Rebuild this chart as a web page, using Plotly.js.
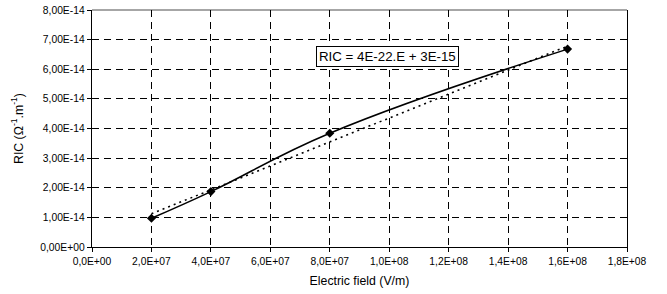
<!DOCTYPE html>
<html><head><meta charset="utf-8">
<script src="https://cdn.plot.ly/plotly-3.0.1.min.js"></script>
<style>html,body{margin:0;padding:0;background:#fff}#c{width:667px;height:294px}</style>
</head><body><div id="c"></div>
<script>
const fieldX = [2e7, 4e7, 8e7, 1.6e8];
const ricY = [0.97e-14, 1.87e-14, 3.84e-14, 6.68e-14];
const trendX = [2e7, 1.6e8];
const trendY = [1.12e-14, 6.78e-14];
const xTickVals = [0, 2e7, 4e7, 6e7, 8e7, 1e8, 1.2e8, 1.4e8, 1.6e8, 1.8e8];
const xTickText = ["0,0E+00","2,0E+07","4,0E+07","6,0E+07","8,0E+07","1,0E+08","1,2E+08","1,4E+08","1,6E+08","1,8E+08"];
const yTickVals = [0, 1e-14, 2e-14, 3e-14, 4e-14, 5e-14, 6e-14, 7e-14, 8e-14];
const yTickText = ["0,00E+00","1,00E-14","2,00E-14","3,00E-14","4,00E-14","5,00E-14","6,00E-14","7,00E-14","8,00E-14"];
const eqText = "RIC = 4E-22.E + 3E-15";

const font = "Arial, 'Liberation Sans', sans-serif";
const traces = [
  {x: trendX, y: trendY, mode: 'lines', line: {color: '#000', width: 1.6, dash: '2px,4px'}, hoverinfo: 'skip'},
  {x: fieldX, y: ricY, mode: 'lines+markers', line: {color: '#000', width: 1.5, shape: 'spline', smoothing: 1.2},
   marker: {symbol: 'diamond', size: 7, color: '#000'}}
];
const layout = {
  width: 667, height: 294,
  margin: {l: 92, r: 40, t: 10, b: 47},
  paper_bgcolor: '#fff', plot_bgcolor: '#fff',
  showlegend: false,
  font: {family: font, size: 10.3, color: '#000'},
  xaxis: {
    range: [0, 1.8e8], tickvals: xTickVals, ticktext: xTickText,
    showgrid: true, gridcolor: '#000', griddash: '7px,5px', gridwidth: 1,
    showline: true, linecolor: '#000', linewidth: 1.3, mirror: false,
    ticks: 'outside', ticklen: 4, tickcolor: '#000', zeroline: false,
    tickfont: {size: 10.3}, fixedrange: true, automargin: false,
    title: {text: 'Electric field (V/m)', font: {size: 12.3}, standoff: 10}
  },
  yaxis: {
    range: [0, 8e-14], tickvals: yTickVals, ticktext: yTickText,
    showgrid: true, gridcolor: '#000', griddash: '7px,5px', gridwidth: 1,
    showline: true, linecolor: '#000', linewidth: 1.3, mirror: true,
    ticks: 'outside', ticklen: 4, tickcolor: '#000', zeroline: false,
    tickfont: {size: 10.3}, fixedrange: true, automargin: false,
    title: {text: 'RIC (Ω<sup>-1</sup>.m<sup>-1</sup>)', font: {size: 12.3}, standoff: 14}
  },
  shapes: [
    {type: 'line', xref: 'paper', yref: 'paper', x0: 0, x1: 1, y0: 1, y1: 1, line: {color: '#888', width: 1.3}, layer: 'below'}
  ],
  annotations: [
    {x: 9.95e7, y: 6.42e-14, xref: 'x', yref: 'y', text: eqText, showarrow: false,
     font: {size: 13.3, family: font, color: '#000'}, bgcolor: '#fff', bordercolor: '#000', borderwidth: 1, borderpad: 2}
  ]
};
Plotly.newPlot('c', traces, layout, {displayModeBar: false, staticPlot: true});
</script></body></html>
